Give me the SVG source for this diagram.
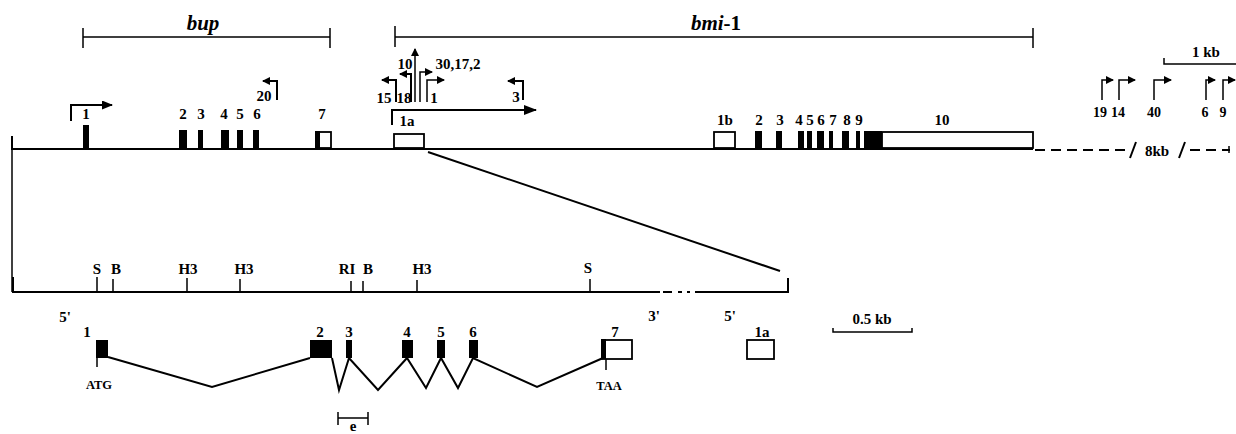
<svg xmlns="http://www.w3.org/2000/svg" width="1236" height="434" viewBox="0 0 1236 434">
<style>
text{font-family:"Liberation Serif","Times New Roman",serif;font-weight:bold;fill:#000;text-anchor:middle}
.n{font-size:15px}
.s{font-size:14px}
.t{font-size:12.5px}
.g{font-size:21px;font-style:italic}
.up{font-style:normal}
.ln{stroke:#000;stroke-width:2;fill:none}
.th{stroke:#000;stroke-width:1.5;fill:none}
.ex{fill:#000;stroke:none}
.op{fill:#fff;stroke:#000;stroke-width:1.8}
.ar{stroke:#000;stroke-width:2;fill:none}
</style>
<defs>
<marker id="ah" markerUnits="userSpaceOnUse" markerWidth="11" markerHeight="9" refX="10" refY="4.5" orient="auto"><path d="M0,0 L11,4.5 L0,9 z" fill="#000"/></marker>
<marker id="ahs" markerUnits="userSpaceOnUse" markerWidth="8" markerHeight="8" refX="7" refY="4" orient="auto"><path d="M0,0 L8,4 L0,8 z" fill="#000"/></marker>
<marker id="ahb" markerUnits="userSpaceOnUse" markerWidth="13" markerHeight="10" refX="12" refY="5" orient="auto"><path d="M0,0 L13,5 L0,10 z" fill="#000"/></marker>
</defs>

<g id="bup-bracket">
<path class="th" d="M83,28 V48 M83,37 H330 M330,28 V48"/>
<text class="g" x="203" y="30">bup</text>
</g>
<g id="bmi1-bracket">
<path class="th" d="M395,26 V47 M395,37 H1033 M1033,28 V48"/>
<text class="g" x="716" y="30">bmi<tspan class="up">-1</tspan></text>
</g>
<g id="scale-1kb">
<path class="th" d="M1164,58 V64 H1236"/>
<text class="n" x="1206" y="57">1 kb</text>
</g>

<g id="connectors">
<path class="ln" d="M12,136 V149 H1033"/>
<path class="ln" d="M1035,150 H1128" stroke-dasharray="10 6"/>
<path class="ln" d="M1190,150 H1230" stroke-dasharray="10 6"/>
<path class="th" d="M1229,146 V153"/>
<path class="th" d="M12,150 V292"/>
<path class="ln" d="M428,152 L780,271"/>
<path class="ln" d="M108,357 L212,387 L310,358"/>
<path class="ln" d="M332,358 L339,390 L349,358 L378,390 L407,358 L426,388 L441,358 L458,388 L473,358 L537,387 L603,358"/>
</g>

<g id="main-map">
<rect class="ex" x="83" y="125" width="6" height="24"/><text class="n" x="86" y="119">1</text>
<rect class="ex" x="179" y="130" width="8" height="19"/><text class="n" x="183" y="119">2</text>
<rect class="ex" x="198" y="130" width="5" height="19"/><text class="n" x="201" y="119">3</text>
<rect class="ex" x="221" y="130" width="8" height="19"/><text class="n" x="224" y="119">4</text>
<rect class="ex" x="237" y="130" width="6" height="19"/><text class="n" x="240" y="119">5</text>
<rect class="ex" x="253" y="130" width="6" height="19"/><text class="n" x="257" y="119">6</text>
<rect class="op" x="316" y="132" width="15" height="16"/><rect class="ex" x="315" y="131" width="5" height="18"/><text class="n" x="322" y="119">7</text>
<rect class="op" x="394" y="134" width="30" height="14"/><text class="n" x="407" y="126">1a</text>
<rect class="op" x="714" y="132" width="21" height="16"/><text class="n" x="725" y="125">1b</text>
<rect class="ex" x="755" y="131" width="7" height="18"/><text class="n" x="759" y="125">2</text>
<rect class="ex" x="776" y="131" width="6" height="18"/><text class="n" x="780" y="125">3</text>
<rect class="ex" x="798" y="131" width="6" height="18"/><text class="n" x="799" y="125">4</text>
<rect class="ex" x="807" y="131" width="5" height="18"/><text class="n" x="810" y="125">5</text>
<rect class="ex" x="817" y="131" width="7" height="18"/><text class="n" x="821" y="125">6</text>
<rect class="ex" x="829" y="131" width="4" height="18"/><text class="n" x="833" y="125">7</text>
<rect class="ex" x="842" y="131" width="7" height="18"/><text class="n" x="847" y="125">8</text>
<rect class="ex" x="856" y="131" width="4" height="18"/><text class="n" x="859" y="125">9</text>
<rect class="ex" x="864" y="131" width="18" height="18"/>
<rect class="op" x="882" y="132" width="151" height="16"/><text class="n" x="942" y="125">10</text>
<path class="ln" d="M1130,158 L1136,142 M1179,158 L1185,142"/>
<text class="n" x="1157" y="156">8kb</text>
</g>

<g id="promoters">
<path class="ar" d="M71,121 V105 H112" marker-end="url(#ah)"/>
<path class="ar" d="M277,100 V81 H263" marker-end="url(#ahs)"/><text class="n" x="264" y="101">20</text>
<path class="ar" d="M392,125 V110 H536" marker-end="url(#ahb)"/>
<path class="ar" d="M396,102 V80 H382" marker-end="url(#ahs)"/><text class="n" x="384" y="103">15</text>
<path class="ar" d="M411,102 V74 H400" marker-end="url(#ahs)"/><text class="n" x="404" y="103">18</text>
<path class="th" d="M415,102 V49" marker-end="url(#ahs)"/><text class="n" x="405" y="69">10</text>
<path class="th" d="M420,102 V72 H432" marker-end="url(#ahs)"/><text class="n" x="458" y="69">30,17,2</text>
<path class="th" d="M427,102 V80 H444" marker-end="url(#ahs)"/><text class="n" x="434" y="103">1</text>
<path class="ar" d="M523,100 V81 H508" marker-end="url(#ahs)"/><text class="n" x="516" y="102">3</text>
<path class="th" d="M1102,100 V80 H1113" marker-end="url(#ahs)"/><text class="s" x="1100" y="117">19</text>
<path class="th" d="M1119,100 V80 H1135" marker-end="url(#ahs)"/><text class="s" x="1118" y="117">14</text>
<path class="th" d="M1154,100 V80 H1171" marker-end="url(#ahs)"/><text class="s" x="1154" y="117">40</text>
<path class="th" d="M1206,100 V80 H1215" marker-end="url(#ahs)"/><text class="s" x="1205" y="117">6</text>
<path class="th" d="M1223,100 V80 H1235" marker-end="url(#ahs)"/><text class="s" x="1223" y="117">9</text>
</g>

<g id="detail-map">
<path class="ln" d="M13,277 V292 H660 M698,292 H788 V278"/>
<path class="ln" d="M663,292 H672 M678,292 H682 M687,292 H690 M695,292 H698"/>
<path class="th" d="M97,277 V292 M113,279 V292 M187,278 V292 M240,279 V292 M351,281 V292 M363,281 V292 M417,280 V292 M590,279 V292"/>
<text class="n" x="97" y="274">S</text>
<text class="n" x="116" y="274">B</text>
<text class="n" x="188" y="274">H3</text>
<text class="n" x="244" y="274">H3</text>
<text class="n" x="347" y="274">RI</text>
<text class="n" x="368" y="274">B</text>
<text class="n" x="422" y="274">H3</text>
<text class="n" x="588" y="273">S</text>
<text class="n" x="65" y="322">5'</text>
<text class="n" x="654" y="321">3'</text>
<text class="n" x="730" y="321">5'</text>
</g>

<g id="gene-structure">
<rect class="ex" x="96" y="340" width="12" height="18"/><text class="n" x="87" y="337">1</text>
<path class="th" d="M97,358 V367"/><text class="t" x="99" y="389">ATG</text>
<rect class="ex" x="310" y="340" width="22" height="18"/><text class="n" x="320" y="337">2</text>
<rect class="ex" x="346" y="340" width="6" height="18"/><text class="n" x="349" y="337">3</text>
<rect class="ex" x="402" y="340" width="11" height="18"/><text class="n" x="407" y="337">4</text>
<rect class="ex" x="437" y="340" width="8" height="18"/><text class="n" x="441" y="337">5</text>
<rect class="ex" x="469" y="340" width="9" height="18"/><text class="n" x="473" y="337">6</text>
<rect class="op" x="602" y="340" width="30" height="19"/><rect class="ex" x="601" y="339" width="5" height="20"/><text class="n" x="615" y="337">7</text>
<path class="th" d="M606,359 V370"/><text class="t" x="609" y="390">TAA</text>
<rect class="op" x="747" y="340" width="27" height="19"/><text class="n" x="762" y="337">1a</text>
</g>

<g id="scale-05kb">
<path class="th" d="M833,328 V332 H912 V328"/>
<text class="n" x="872" y="324">0.5 kb</text>
</g>

<g id="e-bar">
<path class="th" d="M338,412 V425 M338,418 H368 M368,412 V425"/>
<text class="n" x="353" y="431">e</text>
</g>
</svg>
